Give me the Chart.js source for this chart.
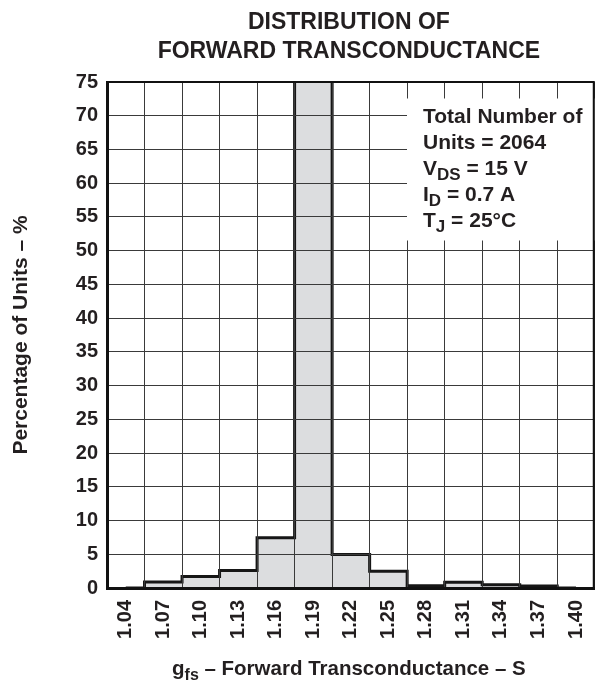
<!DOCTYPE html>
<html>
<head>
<meta charset="utf-8">
<script src="https://cdn.jsdelivr.net/npm/chart.js@4"></script>
<style>
  html, body { margin: 0; padding: 0; background: #fff; }
</style>
</head>
<body>
<canvas id="gfsChart" width="612" height="680"></canvas>
<script>
// ---- data ----
const gfsLabels = ['1.04', '1.07', '1.10', '1.13', '1.16', '1.19', '1.22',
                   '1.25', '1.28', '1.31', '1.34', '1.37', '1.40'];
// percentage of units per bin (the 1.19 bin runs off the top of the plot)
const unitPercent = [0, 0.9, 1.7, 2.6, 7.45, 78, 4.95, 2.5, 0.35, 0.85, 0.5, 0.3, 0];
const yMin = 0;
const yMax = 75;
const yStep = 5;

const titleLines = ['DISTRIBUTION OF', 'FORWARD TRANSCONDUCTANCE'];
const yTitle = 'Percentage of Units \u2013 %';
// [text, isSubscript]
const xTitleParts = [['g', false], ['fs', true], [' \u2013 Forward Transconductance \u2013 S', false]];
const noteLines = [
    [['Total Number of', false]],
    [['Units = 2064', false]],
    [['V', false], ['DS', true], [' = 15 V', false]],
    [['I', false], ['D', true], [' = 0.7 A', false]],
    [['T', false], ['J', true], [' = 25\u00B0C', false]]
];

const FONT = '"Liberation Sans", Arial, Helvetica, sans-serif';
const INK = '#231f20';

// draw text with optional subscripts, returns width
function drawRich(ctx, parts, x, y, size, subSize, drop, measureOnly) {
    let cx = x;
    parts.forEach(([t, sub]) => {
        ctx.font = `bold ${sub ? subSize : size}px ${FONT}`;
        if (!measureOnly) ctx.fillText(t, cx, sub ? y + drop : y);
        cx += ctx.measureText(t).width;
    });
    return cx - x;
}

const decorations = {
    id: 'decorations',
    afterDraw(chart) {
        const { ctx, chartArea: a } = chart;
        ctx.save();
        ctx.fillStyle = INK;
        ctx.textBaseline = 'alphabetic';

        // title, centred over the plot
        const cx = (a.left + a.right) / 2;
        ctx.textAlign = 'center';
        ctx.font = `bold 23px ${FONT}`;
        ctx.fillText(titleLines[0], cx - 2, 29);
        ctx.fillText(titleLines[1], cx - 2, 58);

        // x axis title with subscript
        ctx.textAlign = 'left';
        const w = drawRich(ctx, xTitleParts, 0, 0, 20.5, 16, 5, true);
        drawRich(ctx, xTitleParts, cx - 2 - w / 2, 675, 20.5, 16, 5, false);

        // conditions box
        ctx.fillStyle = '#fff';
        ctx.fillRect(a.left + 300, a.top + 16.5, a.right - a.left - 300, 142);
        ctx.fillStyle = INK;
        noteLines.forEach((line, i) => {
            drawRich(ctx, line, a.left + 316, a.top + 40.5 + i * 26.2, 21, 17, 5, false);
        });

        // top and right frame
        ctx.strokeStyle = '#111';
        ctx.lineWidth = 2;
        ctx.beginPath();
        ctx.moveTo(a.left, a.top);
        ctx.lineTo(a.right - 1, a.top);
        ctx.lineTo(a.right - 1, a.bottom);
        ctx.stroke();
        ctx.restore();
    }
};

const ctx = document.getElementById('gfsChart');

new Chart(ctx, {
    data: {
        labels: gfsLabels,
        datasets: [
            {
                type: 'bar',
                data: unitPercent,
                backgroundColor: '#dcdddf',
                borderWidth: 0,
                barPercentage: 1,
                categoryPercentage: 1,
                order: 2
            },
            {
                type: 'line',
                data: unitPercent,
                stepped: 'middle',
                borderColor: '#161616',
                borderWidth: 3,
                pointRadius: 0,
                fill: false,
                order: 1
            }
        ]
    },
    options: {
        responsive: false,
        animation: false,
        layout: {
            padding: { top: 82, right: 0, bottom: 0, left: 0 }
        },
        plugins: {
            legend: { display: false },
            tooltip: { enabled: false },
            title: { display: false }
        },
        scales: {
            x: {
                type: 'category',
                offset: true,
                grid: { offset: true, color: '#3a3a3a', lineWidth: 1, drawTicks: false, z: 1 },
                border: { color: '#111', width: 3, z: 2 },
                ticks: {
                    autoSkip: false,
                    minRotation: 90,
                    maxRotation: 90,
                    padding: 12,
                    color: INK,
                    font: { family: FONT, size: 20, weight: 'bold' }
                },
                afterFit: (scale) => { scale.height = 92; }
            },
            y: {
                min: yMin,
                max: yMax,
                grid: { color: '#3a3a3a', lineWidth: 1, drawTicks: false, z: 1 },
                border: { color: '#111', width: 3, z: 2 },
                ticks: {
                    stepSize: yStep,
                    padding: 9,
                    color: INK,
                    font: { family: FONT, size: 20, weight: 'bold' }
                },
                title: {
                    display: true,
                    text: yTitle,
                    color: INK,
                    padding: { top: 9, bottom: 0 },
                    font: { family: FONT, size: 21, weight: 'bold' }
                },
                afterFit: (scale) => { scale.width = 107; }
            }
        }
    },
    plugins: [decorations]
});
</script>
</body>
</html>
